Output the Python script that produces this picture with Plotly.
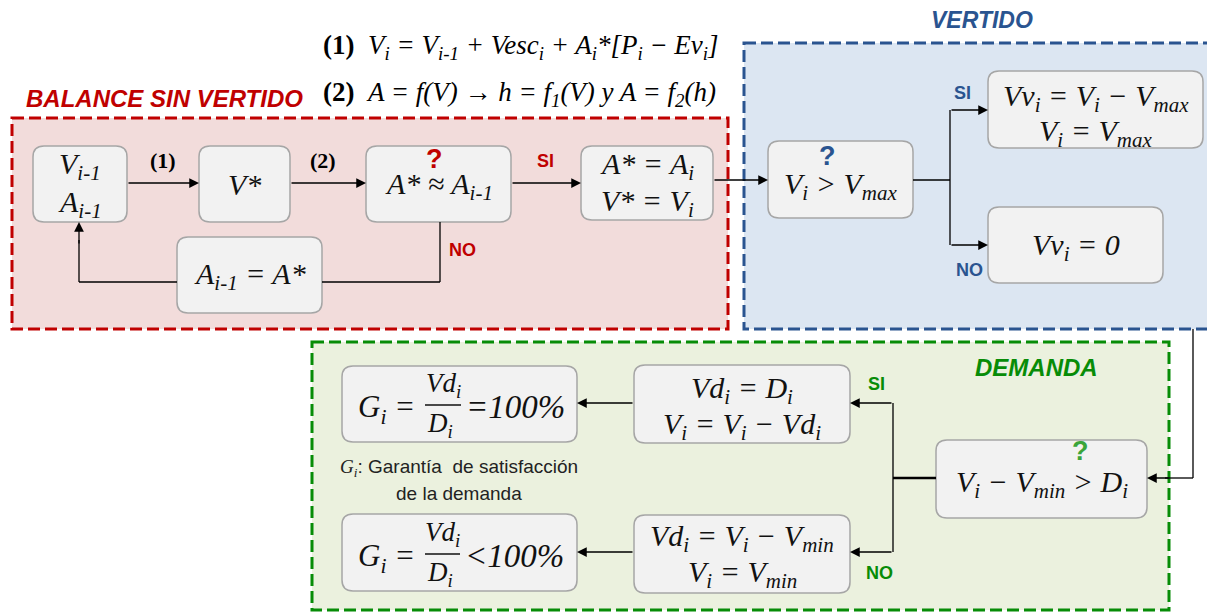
import plotly.graph_objects as go

# ---------------- content (text of the flowchart) ----------------
region_titles = ["BALANCE SIN VERTIDO", "VERTIDO", "DEMANDA"]
equation_lines = [
    "<b>(1)</b>  <i>V<sub>i</sub> = V<sub>i-1</sub> + Vesc<sub>i</sub> + A<sub>i</sub>*[P<sub>i</sub> − Ev<sub>i</sub>]</i>",
    "<b>(2)</b>  <i>A = f(V) → h = f<sub>1</sub>(V) y A = f<sub>2</sub>(h)</i>",
]
node_lines = [
    ["V<sub>i-1</sub>", "A<sub>i-1</sub>"],
    ["V*"],
    ["A* ≈ A<sub>i-1</sub>"],
    ["A* = A<sub>i</sub>", "V* = V<sub>i</sub>"],
    ["A<sub>i-1</sub> = A*"],
    ["V<sub>i</sub> > V<sub>max</sub>"],
    ["Vv<sub>i</sub> = V<sub>i</sub> − V<sub>max</sub>", "V<sub>i</sub> = V<sub>max</sub>"],
    ["Vv<sub>i</sub> = 0"],
    ["V<sub>i</sub> − V<sub>min</sub> > D<sub>i</sub>"],
    ["Vd<sub>i</sub> = D<sub>i</sub>", "V<sub>i</sub> = V<sub>i</sub> − Vd<sub>i</sub>"],
    ["Vd<sub>i</sub> = V<sub>i</sub> − V<sub>min</sub>", "V<sub>i</sub> = V<sub>min</sub>"],
    [],
    [],
]
fraction_parts = [
    ["G<sub>i</sub> =", "Vd<sub>i</sub>", "D<sub>i</sub>", "=100%"],
    ["G<sub>i</sub> =", "Vd<sub>i</sub>", "D<sub>i</sub>", "<100%"],
]
edge_labels = ["(1)", "(2)", "SI", "NO", "SI", "NO", "SI", "NO"]
note_lines = ["<i style='font-family:Liberation Serif'>G<sub>i</sub></i>: Garantía  de satisfacción", "de la demanda"]

# ---------------- layout / geometry ----------------
W, H = 1215, 613
OFF = 8  # page body margin compensation
RED, BLUE, GREEN = "#c00000", "#2a5490", "#078c07"
regions = [  # x0, y0, x1, y1, border, fill
    (12, 118, 728, 329, RED, "#f2dcdb"),
    (744, 43, 1224, 329, BLUE, "#dce6f2"),
    (312, 342, 1169, 610, GREEN, "#ebf1de"),
]
title_pos = [(164, 98, RED), (982, 20, BLUE), (1036, 367, GREEN)]

boxes = [
    (33, 146, 127, 222), (199, 146, 290, 222), (366, 146, 511, 222),
    (581, 146, 713, 220), (177, 237, 322, 313), (768, 141, 913, 218),
    (988, 71, 1203, 148), (988, 207, 1163, 283), (936, 440, 1147, 518),
    (634, 365, 850, 443), (634, 515, 850, 593), (342, 366, 577, 442),
    (342, 514, 577, 591),
]
line_y = [
    [166, 204], [184], [186], [166, 203], [276], [186],
    [98, 133], [247], [484], [390, 426], [538, 574], [], [],
]
qmarks = [(434, 159, RED), (827, 156, BLUE), (1080, 451, "#3aa53a")]
label_pos = [
    (163, 160, "black", "serif"), (323, 160, "black", "serif"),
    (545, 161, RED, "sans"), (462, 250, RED, "sans"),
    (962, 93, BLUE, "sans"), (969, 270, BLUE, "sans"),
    (876, 384, GREEN, "sans"), (879, 573, GREEN, "sans"),
]
# polylines (without arrowhead) and arrows (tail -> head)
plain_lines = [
    [(440, 222), (440, 282), (322, 282)],
    [(177, 282), (79, 282), (79, 240)],
    [(913, 180), (950, 180)],
    [(950, 110), (950, 245)],
    [(1193, 329), (1193, 478), (1165, 478)],
    [(893, 403), (893, 552)],
]
thick_lines = [[(936, 478), (893, 478)]]
arrows = [
    ((127, 183), (199, 183)), ((290, 183), (366, 183)), ((511, 183), (581, 183)),
    ((79, 245), (79, 222)), ((713, 180), (768, 180)),
    ((950, 110), (988, 110)), ((950, 245), (988, 245)),
    ((1170, 478), (1147, 478)),
    ((893, 403), (850, 403)), ((893, 552), (850, 552)),
    ((634, 403), (577, 403)), ((634, 552), (577, 552)),
]
fractions = [  # (G x, frac x0, frac x1, line y)
    (386, 425, 461, 405),
    (386, 425, 460, 554),
]

SERIF = "Liberation Serif"
SANS = "Liberation Sans"

fig = go.Figure()
shapes, annos = [], []


def rr(x0, y0, x1, y1, r=11):
    return (f"M {x0+r},{y0} L {x1-r},{y0} Q {x1},{y0} {x1},{y0+r} "
            f"L {x1},{y1-r} Q {x1},{y1} {x1-r},{y1} L {x0+r},{y1} "
            f"Q {x0},{y1} {x0},{y1-r} L {x0},{y0+r} Q {x0},{y0} {x0+r},{y0} Z")


for x0, y0, x1, y1, bc, fc in regions:
    shapes.append(dict(type="rect", x0=x0, y0=y0, x1=x1, y1=y1, xref="x", yref="y",
                       fillcolor=fc, line=dict(color=bc, width=3, dash="12px,5px"), layer="below"))

for (x, y, c), t in zip(title_pos, region_titles):
    annos.append(dict(x=x, y=y, text=f"<b><i>{t}</i></b>", showarrow=False,
                      font=dict(family=SANS, size=24 if t != "VERTIDO" else 23, color=c),
                      xanchor="center", yanchor="middle"))

for i, t in enumerate(equation_lines):
    annos.append(dict(x=321, y=[47, 94][i], text=t, showarrow=False, xanchor="left", yanchor="middle",
                      font=dict(family=SERIF, size=27, color="black")))

for (x0, y0, x1, y1) in boxes:
    shapes.append(dict(type="path", path=rr(x0, y0, x1, y1), xref="x", yref="y",
                       fillcolor="#f2f2f2", line=dict(color="#a6a6a6", width=1.5)))

for (x0, y0, x1, y1), lines, ys in zip(boxes, node_lines, line_y):
    cx = (x0 + x1) / 2
    for t, y in zip(lines, ys):
        annos.append(dict(x=cx, y=y, text=f"<i>{t}</i>", showarrow=False, xanchor="center",
                          yanchor="middle", font=dict(family=SERIF, size=30, color="#111111")))

for (gx, fx0, fx1, ly), parts in zip(fractions, fraction_parts):
    annos.append(dict(x=gx, y=ly + 4, text=f"<i>{parts[0]}</i>", showarrow=False, xanchor="center",
                      yanchor="middle", font=dict(family=SERIF, size=31, color="#111111")))
    annos.append(dict(x=(fx0 + fx1) / 2, y=ly - 1, text=f"<i>{parts[1]}</i>", showarrow=False,
                      xanchor="center", yanchor="bottom", font=dict(family=SERIF, size=27, color="#111111")))
    annos.append(dict(x=(fx0 + fx1) / 2 - 3, y=ly + 1, text=f"<i>{parts[2]}</i>", showarrow=False,
                      xanchor="center", yanchor="top", font=dict(family=SERIF, size=27, color="#111111")))
    annos.append(dict(x=fx1 + 3, y=ly + 2, text=f"<i>{parts[3]}</i>", showarrow=False, xanchor="left",
                      yanchor="middle", font=dict(family=SERIF, size=33, color="#111111")))
    shapes.append(dict(type="line", x0=fx0, x1=fx1, y0=ly, y1=ly, xref="x", yref="y",
                       line=dict(color="#111111", width=1.6)))

for x, y, c in qmarks:
    annos.append(dict(x=x, y=y, text="<b>?</b>", showarrow=False, xanchor="center", yanchor="middle",
                      font=dict(family=SANS, size=27, color=c)))

for (x, y, c, f), t in zip(label_pos, edge_labels):
    annos.append(dict(x=x, y=y, text=f"<b>{t}</b>", showarrow=False, xanchor="center", yanchor="middle",
                      font=dict(family=SERIF if f == "serif" else SANS, size=22 if f == "serif" else 18,
                                color=c)))

for i, t in enumerate(note_lines):
    annos.append(dict(x=459, y=[468, 493][i], text=t, showarrow=False, xanchor="center", yanchor="middle",
                      font=dict(family=SANS, size=19, color="#222222")))


def polyline(pts, width):
    for (xa, ya), (xb, yb) in zip(pts[:-1], pts[1:]):
        shapes.append(dict(type="line", x0=xa, y0=ya, x1=xb, y1=yb, xref="x", yref="y",
                           line=dict(color="black", width=width)))


for p in plain_lines:
    polyline(p, 1.3)
for p in thick_lines:
    polyline(p, 2.6)

for (tx, ty), (hx, hy) in arrows:
    annos.append(dict(x=hx, y=hy, ax=tx, ay=ty, xref="x", yref="y", axref="x", ayref="y",
                      text="", showarrow=True, arrowhead=2, arrowsize=1.5, arrowwidth=1.3,
                      arrowcolor="black", standoff=0, startstandoff=0))

fig.update_layout(
    width=W, height=H, margin=dict(l=0, r=0, t=0, b=0),
    paper_bgcolor="white", plot_bgcolor="white",
    xaxis=dict(range=[OFF, W + OFF], visible=False, fixedrange=True),
    yaxis=dict(range=[H + OFF, OFF], visible=False, fixedrange=True),
    shapes=shapes, annotations=annos, showlegend=False,
)
fig.write_html("out.html")
